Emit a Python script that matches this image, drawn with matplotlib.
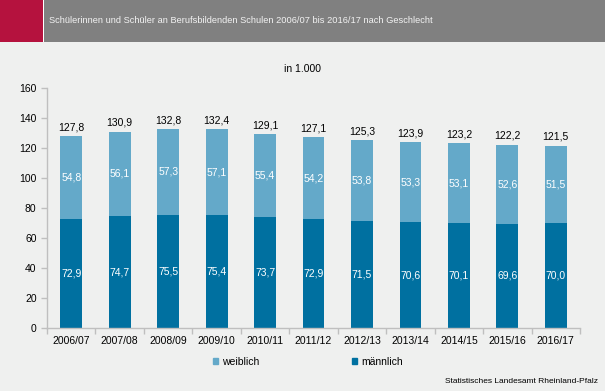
import matplotlib.pyplot as plt
import matplotlib.patches as mpatches
import numpy as np

plt.rcParams['font.family'] = ['Liberation Sans', 'DejaVu Sans']

jahre = ['2006/07', '2007/08', '2008/09', '2009/10', '2010/11', '2011/12',
         '2012/13', '2013/14', '2014/15', '2015/16', '2016/17']
maennlich = [72.9, 74.7, 75.5, 75.4, 73.7, 72.9, 71.5, 70.6, 70.1, 69.6, 70.0]
weiblich = [54.8, 56.1, 57.3, 57.1, 55.4, 54.2, 53.8, 53.3, 53.1, 52.6, 51.5]
insgesamt = [127.8, 130.9, 132.8, 132.4, 129.1, 127.1, 125.3, 123.9, 123.2, 122.2, 121.5]

bg = '#eff0ef'
c_w = '#64a9c9'
c_m = '#0070a0'
grey = '#bfbfbf'

def de(v):
    return f'{v:.1f}'.replace('.', ',')

fig = plt.figure(figsize=(6.05, 3.91), dpi=100)
fig.patch.set_facecolor(bg)

# Kopfzeile
fig.patches.append(mpatches.Rectangle((0, 0.893), 1, 0.107, transform=fig.transFigure,
                                      facecolor='#808080', edgecolor='none'))
fig.patches.append(mpatches.Rectangle((0, 0.893), 0.071, 0.107, transform=fig.transFigure,
                                      facecolor='#b5123e', edgecolor='none'))
fig.patches.append(mpatches.Rectangle((0.071, 0.893), 0.002, 0.107, transform=fig.transFigure,
                                      facecolor='white', edgecolor='none'))
fig.text(0.081, 0.948, 'Schülerinnen und Schüler an Berufsbildenden Schulen 2006/07 bis 2016/17 nach Geschlecht',
         color='#f2f2f2', fontsize=6.7, va='center', ha='left')

ax = fig.add_axes([0.0777, 0.161, 0.881, 0.614])
ax.set_facecolor(bg)

x = np.arange(len(jahre))
w = 0.45
ax.bar(x, maennlich, w, color=c_m, label='männlich')
ax.bar(x, weiblich, w, bottom=maennlich, color=c_w, label='weiblich')

for i in range(len(jahre)):
    ax.text(x[i], maennlich[i] / 2, de(maennlich[i]), ha='center', va='center',
            color='white', fontsize=7.5)
    ax.text(x[i], maennlich[i] + weiblich[i] / 2, de(weiblich[i]), ha='center', va='center',
            color='white', fontsize=7.5)
    ax.text(x[i], insgesamt[i] + 2.5, de(insgesamt[i]), ha='center', va='bottom',
            color='black', fontsize=7.5)

ax.set_xlim(-0.5, len(jahre) - 0.5)
ax.set_ylim(0, 160)
ax.set_yticks(range(0, 161, 20))
ax.set_xticks(x)
ax.set_xticklabels(jahre, fontsize=7.5)
ax.set_xticks(np.arange(-0.5, len(jahre), 1), minor=True)
ax.tick_params(axis='x', which='major', length=0, pad=6)
ax.tick_params(axis='x', which='minor', length=4, color=grey, width=1)
ax.tick_params(axis='y', labelsize=7.5, length=4, color=grey, width=1)
for s in ['top', 'right']:
    ax.spines[s].set_visible(False)
for s in ['left', 'bottom']:
    ax.spines[s].set_color(grey)
    ax.spines[s].set_linewidth(1)

fig.text(0.5, 0.824, 'in 1.000', ha='center', va='center', fontsize=7.5)

h_w = mpatches.Patch(color=c_w)
h_m = mpatches.Patch(color=c_m)
fig.legend([h_w, h_m], ['weiblich', 'männlich'], loc='center', bbox_to_anchor=(0.509, 0.074),
           ncol=2, frameon=False, fontsize=7.5, handlelength=0.5, handleheight=0.5,
           columnspacing=8.9, handletextpad=0.4)

fig.text(0.988, 0.025, 'Statistisches Landesamt Rheinland-Pfalz', ha='right', va='center',
         fontsize=6)

fig.savefig('out.png', dpi=100, facecolor=bg)
